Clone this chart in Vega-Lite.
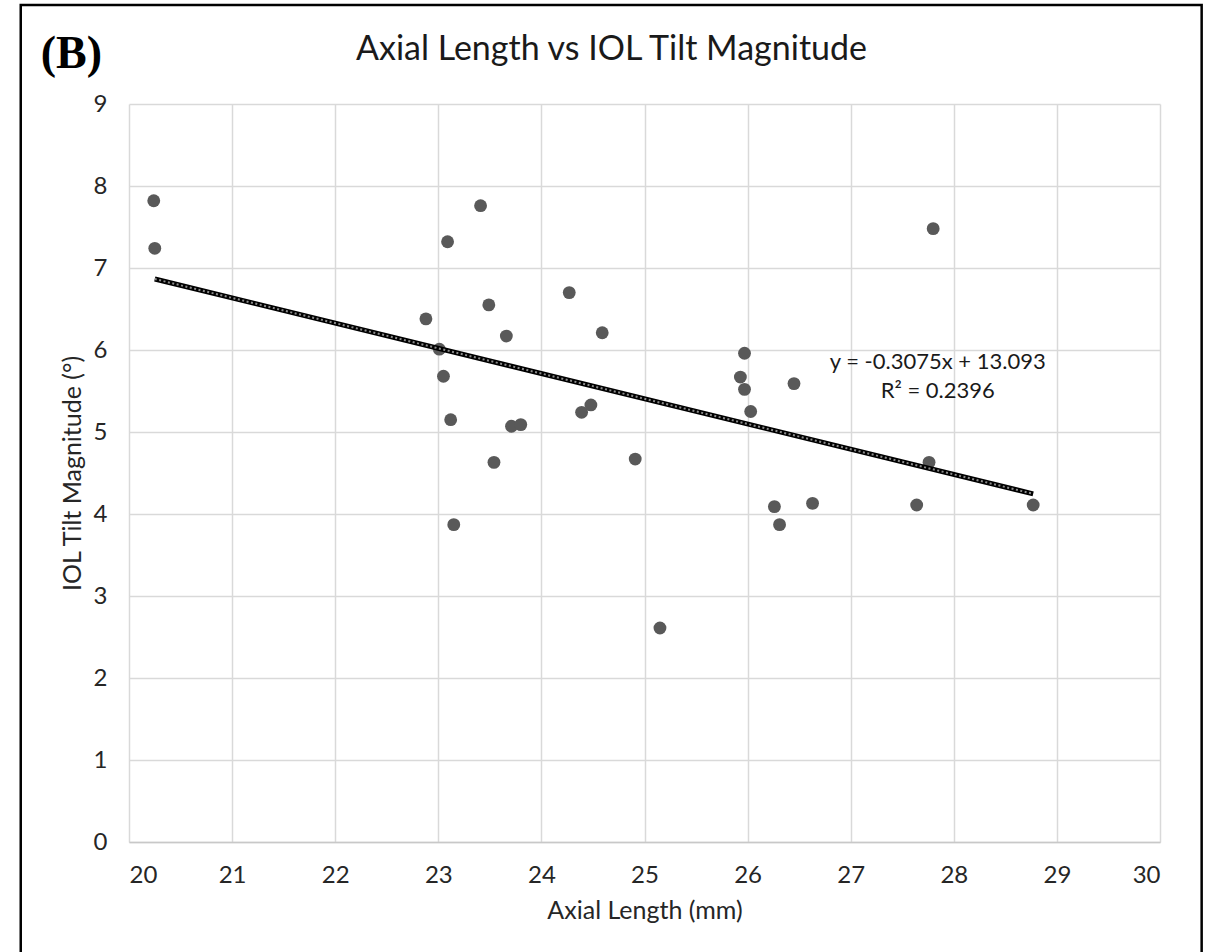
{
  "$schema": "https://vega.github.io/schema/vega-lite/v6.json",
  "width": 1031,
  "height": 738,
  "autosize": {"type": "none"},
  "padding": {"left": 129, "top": 104, "right": 58, "bottom": 110},
  "background": "white",
  "config": {
    "view": {"stroke": null},
    "font": "Lato",
    "numberFormat": "d",
    "axisX": {
      "grid": true,
      "gridColor": "#d9d9d9",
      "gridWidth": 1.5,
      "domainColor": "#c8c8c8",
      "domainWidth": 1.5,
      "ticks": false,
      "labelFont": "Lato",
      "labelFontSize": 24,
      "labelColor": "#262626",
      "labelPadding": 21,
      "titleFont": "Lato",
      "titleFontSize": 25,
      "titleFontWeight": "normal",
      "titleColor": "#262626",
      "titlePadding": 11
    },
    "axisY": {
      "grid": true,
      "gridColor": "#d9d9d9",
      "gridWidth": 1.5,
      "domain": false,
      "ticks": false,
      "labelFont": "Lato",
      "labelFontSize": 24,
      "labelColor": "#262626",
      "labelPadding": 22,
      "titleFont": "Lato",
      "titleFontSize": 25,
      "titleFontWeight": "normal",
      "titleColor": "#262626",
      "titlePadding": 8
    }
  },
  "title": {
    "text": "Axial Length vs IOL Tilt Magnitude",
    "font": "Lato",
    "fontSize": 34,
    "fontWeight": "normal",
    "color": "#1a1a1a",
    "anchor": "middle",
    "dx": -33,
    "offset": -63
  },
  "datasets": {
    "points": [
      {"al": 20.24, "tilt": 7.82},
      {"al": 20.25, "tilt": 7.24},
      {"al": 22.88, "tilt": 6.38},
      {"al": 23.01, "tilt": 6.01},
      {"al": 23.05, "tilt": 5.68},
      {"al": 23.09, "tilt": 7.32},
      {"al": 23.12, "tilt": 5.15},
      {"al": 23.15, "tilt": 3.87},
      {"al": 23.41, "tilt": 7.76},
      {"al": 23.49, "tilt": 6.55},
      {"al": 23.54, "tilt": 4.63},
      {"al": 23.66, "tilt": 6.17},
      {"al": 23.71, "tilt": 5.07},
      {"al": 23.80, "tilt": 5.09},
      {"al": 24.27, "tilt": 6.70},
      {"al": 24.39, "tilt": 5.24},
      {"al": 24.48, "tilt": 5.33},
      {"al": 24.59, "tilt": 6.21},
      {"al": 24.91, "tilt": 4.67},
      {"al": 25.15, "tilt": 2.61},
      {"al": 25.93, "tilt": 5.67},
      {"al": 25.97, "tilt": 5.96},
      {"al": 25.97, "tilt": 5.52},
      {"al": 26.03, "tilt": 5.25},
      {"al": 26.26, "tilt": 4.09},
      {"al": 26.31, "tilt": 3.87},
      {"al": 26.45, "tilt": 5.59},
      {"al": 26.63, "tilt": 4.13},
      {"al": 27.64, "tilt": 4.11},
      {"al": 27.76, "tilt": 4.63},
      {"al": 27.80, "tilt": 7.48},
      {"al": 28.77, "tilt": 4.11}
    ],
    "trend": [
      {"al": 20.25, "tilt": 6.866},
      {"al": 28.77, "tilt": 4.246}
    ]
  },
  "layer": [
    {
      "data": {"name": "points"},
      "mark": {"type": "circle", "size": 165, "color": "#595959", "opacity": 1},
      "encoding": {
        "x": {
          "field": "al",
          "type": "quantitative",
          "title": "Axial Length (mm)",
          "scale": {"domain": [20, 30], "nice": false, "zero": false},
          "axis": {"values": [20, 21, 22, 23, 24, 25, 26, 27, 28, 29, 30], "format": "d"}
        },
        "y": {
          "field": "tilt",
          "type": "quantitative",
          "title": "IOL Tilt Magnitude (°)",
          "scale": {"domain": [0, 9], "nice": false, "zero": false},
          "axis": {"values": [0, 1, 2, 3, 4, 5, 6, 7, 8, 9], "format": "d"}
        }
      }
    },
    {
      "data": {"name": "trend"},
      "mark": {"type": "line", "color": "#000000", "strokeWidth": 5, "strokeCap": "butt"},
      "encoding": {
        "x": {"field": "al", "type": "quantitative", "title": "Axial Length (mm)"},
        "y": {"field": "tilt", "type": "quantitative", "title": "IOL Tilt Magnitude (°)"}
      }
    },
    {
      "data": {"name": "trend"},
      "mark": {"type": "line", "color": "#8c8c8c", "strokeWidth": 2, "strokeDash": [2, 2.5], "strokeCap": "butt"},
      "encoding": {
        "x": {"field": "al", "type": "quantitative", "title": "Axial Length (mm)"},
        "y": {"field": "tilt", "type": "quantitative", "title": "IOL Tilt Magnitude (°)"}
      }
    },
    {
      "data": {"values": [{}]},
      "mark": {
        "type": "text",
        "text": ["y = -0.3075x + 13.093", "R² = 0.2396"],
        "font": "Lato",
        "fontSize": 22,
        "lineHeight": 29,
        "align": "center",
        "baseline": "middle",
        "color": "#1a1a1a"
      },
      "encoding": {
        "x": {"datum": 27.844, "type": "quantitative", "title": "Axial Length (mm)"},
        "y": {"datum": 5.848, "type": "quantitative", "title": "IOL Tilt Magnitude (°)"}
      }
    },
    {
      "data": {"values": [{}]},
      "mark": {
        "type": "text",
        "text": "(B)",
        "font": "Liberation Serif",
        "fontWeight": "bold",
        "fontSize": 46,
        "align": "left",
        "baseline": "alphabetic",
        "color": "#000000"
      },
      "encoding": {
        "x": {"datum": 19.144, "type": "quantitative", "title": "Axial Length (mm)"},
        "y": {"datum": 9.44, "type": "quantitative", "title": "IOL Tilt Magnitude (°)"}
      }
    },
    {
      "data": {"values": [{}]},
      "mark": {"type": "rect", "filled": false, "stroke": "#000000", "strokeWidth": 2.5},
      "encoding": {
        "x": {"datum": 18.95, "type": "quantitative", "title": "Axial Length (mm)"},
        "x2": {"datum": 30.404},
        "y": {"datum": 10.207, "type": "quantitative", "title": "IOL Tilt Magnitude (°)"},
        "y2": {"datum": -1.5}
      }
    }
  ]
}
